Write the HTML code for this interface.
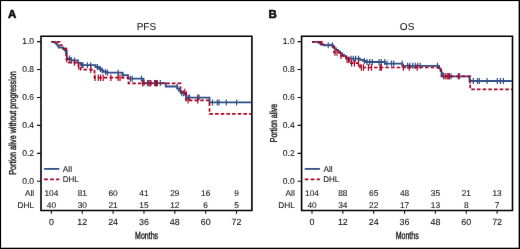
<!DOCTYPE html>
<html><head><meta charset="utf-8"><style>
html,body{margin:0;padding:0;background:#fff;width:520px;height:249px;overflow:hidden}
svg{display:block;text-rendering:geometricPrecision}
text{stroke:#111;stroke-width:0.08px}
</style></head><body>
<svg width="520" height="249" viewBox="0 0 520 249" font-family='"Liberation Sans", sans-serif' fill="#111">
<defs><filter id="sf" x="0" y="0" width="100%" height="100%" filterUnits="userSpaceOnUse"><feConvolveMatrix order="3" kernelMatrix="0.0019 0.0439 0.0019 0.0439 1.0000 0.0439 0.0019 0.0439 0.0019" edgeMode="duplicate" preserveAlpha="false"/></filter></defs>
<rect x="0" y="0" width="520" height="249" fill="#fff"/>
<g filter="url(#sf)">
<text x="7.9" y="17.8" font-size="11.5" font-weight="bold" style="stroke-width:0.6px">A</text>
<text x="146.4" y="30.3" font-size="10" text-anchor="middle">PFS</text>
<path d="M41.0,36.2H251.9V210.5H41.0Z" stroke="#000" stroke-width="1.6" fill="none"/>
<text x="34.1" y="183.75" font-size="8.5" text-anchor="end">0.0</text>
<text x="34.1" y="155.83" font-size="8.5" text-anchor="end">0.2</text>
<text x="34.1" y="127.91" font-size="8.5" text-anchor="end">0.4</text>
<text x="34.1" y="99.99" font-size="8.5" text-anchor="end">0.6</text>
<text x="34.1" y="72.07" font-size="8.5" text-anchor="end">0.8</text>
<text x="34.1" y="44.15" font-size="8.5" text-anchor="end">1.0</text>
<path d="M37,181.25H41.0M37,153.33H41.0M37,125.41H41.0M37,97.49H41.0M37,69.57H41.0M37,41.65H41.0" stroke="#111" stroke-width="1.1"/>
<text x="51.40" y="225" font-size="8.9" text-anchor="middle">0</text>
<text x="51.40" y="196.2" font-size="8.3" text-anchor="middle">104</text>
<text x="51.40" y="208.2" font-size="8.3" text-anchor="middle">40</text>
<text x="82.25" y="225" font-size="8.9" text-anchor="middle">12</text>
<text x="82.25" y="196.2" font-size="8.3" text-anchor="middle">81</text>
<text x="82.25" y="208.2" font-size="8.3" text-anchor="middle">30</text>
<text x="113.10" y="225" font-size="8.9" text-anchor="middle">24</text>
<text x="113.10" y="196.2" font-size="8.3" text-anchor="middle">60</text>
<text x="113.10" y="208.2" font-size="8.3" text-anchor="middle">21</text>
<text x="143.95" y="225" font-size="8.9" text-anchor="middle">36</text>
<text x="143.95" y="196.2" font-size="8.3" text-anchor="middle">41</text>
<text x="143.95" y="208.2" font-size="8.3" text-anchor="middle">15</text>
<text x="174.80" y="225" font-size="8.9" text-anchor="middle">48</text>
<text x="174.80" y="196.2" font-size="8.3" text-anchor="middle">29</text>
<text x="174.80" y="208.2" font-size="8.3" text-anchor="middle">12</text>
<text x="205.65" y="225" font-size="8.9" text-anchor="middle">60</text>
<text x="205.65" y="196.2" font-size="8.3" text-anchor="middle">16</text>
<text x="205.65" y="208.2" font-size="8.3" text-anchor="middle">6</text>
<text x="236.50" y="225" font-size="8.9" text-anchor="middle">72</text>
<text x="236.50" y="196.2" font-size="8.3" text-anchor="middle">9</text>
<text x="236.50" y="208.2" font-size="8.3" text-anchor="middle">5</text>
<path d="M51.40,210.5V213.7M82.25,210.5V213.7M113.10,210.5V213.7M143.95,210.5V213.7M174.80,210.5V213.7M205.65,210.5V213.7M236.50,210.5V213.7" stroke="#111" stroke-width="1.1"/>
<text x="34.2" y="196.2" font-size="8.3" text-anchor="end">All</text>
<text x="34.2" y="208.2" font-size="8.3" text-anchor="end">DHL</text>
<text transform="translate(146.6,239.1) scale(0.675,1)" font-size="10.4" style="stroke-width:0.35px" text-anchor="middle">Months</text>
<text transform="translate(15.9,123) rotate(-90) scale(0.716,1)" font-size="10" style="stroke-width:0.35px" text-anchor="middle">Portion alive without progression</text>
<path d="M44.1,168.9H59.3" stroke="#324f84" stroke-width="1.8"/>
<path d="M44.1,179.4H59.3" stroke="#ad0022" stroke-width="1.7" stroke-dasharray="3.7 2.3"/>
<text x="62.8" y="171.5" font-size="8.3">All</text>
<text x="62.7" y="182.0" font-size="8.3" textLength="16.0" lengthAdjust="spacingAndGlyphs">DHL</text>
<g transform="translate(0,0.4)">
<path d="M51.4,41.4 H55.3 V42.6 H56.5 V44 H57.7 V45.5 H58.8 V47.1 H63.2 V48.6 H64.7 V50.1 H66.8 V58 H71 V60 H78 V62.5 H81 V64.8 H95.5 V66.6 H99 V68.5 H101 V70 H103.5 V71.5 H107 V72.3 H122.4 V74.8 H128 V78.3 H143.5 V82.7 H165.7 V86.1 H177.5 V88.3 H179 V90.5 H181 V92.8 H186 V97.2 H209.5 V102 H251.2" stroke="#324f84" stroke-width="1.8" fill="none"/>
<path d="M65.7,47.1V53.1M69.6,55.0V61.0M71.6,57.0V63.0M74.5,57.0V63.0M81.8,61.8V67.8M82.9,61.8V67.8M87.5,61.8V67.8M90.7,61.8V67.8M97.4,63.6V69.6M100.3,65.5V71.5M102.2,67.0V73.0M105.6,68.5V74.5M107.5,69.3V75.3M118.1,69.3V75.3M122.9,71.8V77.8M130.4,75.3V81.3M132.2,75.3V81.3M141.5,75.3V81.3M144,79.7V85.7M147.5,79.7V85.7M151,79.7V85.7M154.5,79.7V85.7M157.4,79.7V85.7M160.3,79.7V85.7M177,83.1V89.1M181.8,89.8V95.8M183.7,89.8V95.8M188.1,94.2V100.2M189.5,94.2V100.2M197.7,94.2V100.2M199,94.2V100.2M212.5,99.0V105.0M217.3,99.0V105.0M219,99.0V105.0M226.3,99.0V105.0M236.6,99.0V105.0" stroke="#324f84" stroke-width="1.2" fill="none"/>
<path d="M66.2,57 V59 H69 V62.2 H78.5 V66 H80.5 V69.3 H94.5 V77.3 H128.5 V82.9 H180.5 V91.6 H186 V100 H209.5 V113.5 H251.5" stroke="#ad0022" stroke-width="1.7" fill="none" stroke-dasharray="3.5 2.17" stroke-dashoffset="4.39"/>
<path d="M51.4,41.4H54.9M56.6,41.4H59.5V42.2M59.5,44.7H62.6M62.6,48.1H66.2V50.2M66.2,52V55.5" stroke="#ad0022" stroke-width="1.7" fill="none"/>
<path d="M66.8,55.8V62.2M74.5,59.0V65.4M78.7,62.8V69.2M90.8,66.1V72.5M95,74.1V80.5M98.3,74.1V80.5M100.7,74.1V80.5M103.2,74.1V80.5M110.9,74.1V80.5M118.1,74.1V80.5M120,74.1V80.5M142.7,79.7V86.1M148.7,79.7V86.1M150.2,79.7V86.1M155.5,79.7V86.1M156.6,79.7V86.1M184.8,88.4V94.8M188,96.8V103.2M197.7,96.8V103.2" stroke="#ad0022" stroke-width="1.2" fill="none"/>
</g>
<text x="268.5" y="17.8" font-size="11.5" font-weight="bold" style="stroke-width:0.6px">B</text>
<text x="407.1" y="30.3" font-size="10" text-anchor="middle">OS</text>
<path d="M301.6,36.2H512.5V210.5H301.6Z" stroke="#000" stroke-width="1.6" fill="none"/>
<text x="294.70000000000005" y="183.75" font-size="8.5" text-anchor="end">0.0</text>
<text x="294.70000000000005" y="155.83" font-size="8.5" text-anchor="end">0.2</text>
<text x="294.70000000000005" y="127.91" font-size="8.5" text-anchor="end">0.4</text>
<text x="294.70000000000005" y="99.99" font-size="8.5" text-anchor="end">0.6</text>
<text x="294.70000000000005" y="72.07" font-size="8.5" text-anchor="end">0.8</text>
<text x="294.70000000000005" y="44.15" font-size="8.5" text-anchor="end">1.0</text>
<path d="M297.6,181.25H301.6M297.6,153.33H301.6M297.6,125.41H301.6M297.6,97.49H301.6M297.6,69.57H301.6M297.6,41.65H301.6" stroke="#111" stroke-width="1.1"/>
<text x="312.00" y="225" font-size="8.9" text-anchor="middle">0</text>
<text x="312.00" y="196.2" font-size="8.3" text-anchor="middle">104</text>
<text x="312.00" y="208.2" font-size="8.3" text-anchor="middle">40</text>
<text x="342.85" y="225" font-size="8.9" text-anchor="middle">12</text>
<text x="342.85" y="196.2" font-size="8.3" text-anchor="middle">88</text>
<text x="342.85" y="208.2" font-size="8.3" text-anchor="middle">34</text>
<text x="373.70" y="225" font-size="8.9" text-anchor="middle">24</text>
<text x="373.70" y="196.2" font-size="8.3" text-anchor="middle">65</text>
<text x="373.70" y="208.2" font-size="8.3" text-anchor="middle">22</text>
<text x="404.55" y="225" font-size="8.9" text-anchor="middle">36</text>
<text x="404.55" y="196.2" font-size="8.3" text-anchor="middle">48</text>
<text x="404.55" y="208.2" font-size="8.3" text-anchor="middle">17</text>
<text x="435.40" y="225" font-size="8.9" text-anchor="middle">48</text>
<text x="435.40" y="196.2" font-size="8.3" text-anchor="middle">35</text>
<text x="435.40" y="208.2" font-size="8.3" text-anchor="middle">13</text>
<text x="466.25" y="225" font-size="8.9" text-anchor="middle">60</text>
<text x="466.25" y="196.2" font-size="8.3" text-anchor="middle">21</text>
<text x="466.25" y="208.2" font-size="8.3" text-anchor="middle">8</text>
<text x="497.10" y="225" font-size="8.9" text-anchor="middle">72</text>
<text x="497.10" y="196.2" font-size="8.3" text-anchor="middle">13</text>
<text x="497.10" y="208.2" font-size="8.3" text-anchor="middle">7</text>
<path d="M312.00,210.5V213.7M342.85,210.5V213.7M373.70,210.5V213.7M404.55,210.5V213.7M435.40,210.5V213.7M466.25,210.5V213.7M497.10,210.5V213.7" stroke="#111" stroke-width="1.1"/>
<text x="294.8" y="196.2" font-size="8.3" text-anchor="end">All</text>
<text x="294.8" y="208.2" font-size="8.3" text-anchor="end">DHL</text>
<text transform="translate(407.2,239.1) scale(0.675,1)" font-size="10.4" style="stroke-width:0.35px" text-anchor="middle">Months</text>
<text transform="translate(276.5,123) rotate(-90) scale(0.7,1)" font-size="10" style="stroke-width:0.35px" text-anchor="middle">Portion alive</text>
<path d="M304.70000000000005,168.9H319.90000000000003" stroke="#324f84" stroke-width="1.8"/>
<path d="M304.70000000000005,179.4H319.90000000000003" stroke="#ad0022" stroke-width="1.7" stroke-dasharray="3.7 2.3"/>
<text x="323.40000000000003" y="171.5" font-size="8.3">All</text>
<text x="323.3" y="182.0" font-size="8.3" textLength="16.0" lengthAdjust="spacingAndGlyphs">DHL</text>
<g transform="translate(0,0.4)">
<path d="M321,41.4 V45 H334" stroke="#ad0022" stroke-width="1.7" fill="none" stroke-dasharray="3.5 2.17"/>
<path d="M312,41.4 H318 V42.2 H319.5 V42.9 H321 V43.6 H322.5 V44.2 H324 V44.8 H333 V46.5 H334.5 V48 H336 V49.5 H338 V51 H340 V52.7 H342 V54.3 H344 V55.8 H346 V57.2 H348.5 V58.3 H360 V59.4 H363 V60.5 H366 V61.6 H385 V63.2 H402.5 V65.4 H439 V68 H440.5 V70.5 H441.5 V72.5 H442.5 V74 H443 V75.9 H469.5 V80.6 H512" stroke="#324f84" stroke-width="1.8" fill="none"/>
<path d="M328.2,41.8V47.8M332.3,41.8V47.8M351,55.3V61.3M353.3,55.3V61.3M355.6,55.3V61.3M358.6,55.3V61.3M364.4,57.5V63.5M367,58.6V64.6M369.7,58.6V64.6M372.3,58.6V64.6M379.1,58.6V64.6M381.3,58.6V64.6M384.8,58.6V64.6M387,60.2V66.2M391.5,60.2V66.2M393.7,60.2V66.2M402.1,60.2V66.2M407.6,62.4V68.4M409.8,62.4V68.4M412.7,62.4V68.4M415.3,62.4V68.4M417.8,62.4V68.4M420.2,62.4V68.4M437.5,62.4V68.4M443.5,72.9V78.9M448.4,72.9V78.9M450.9,72.9V78.9M459.6,72.9V78.9M470.0,77.6V83.6M473.3,77.6V83.6M477.5,77.6V83.6M479.3,77.6V83.6M487.1,77.6V83.6M497.3,77.6V83.6M500.4,77.6V83.6M503.4,77.6V83.6" stroke="#324f84" stroke-width="1.2" fill="none"/>
<path d="M334,45 V52.1 H340 V55.5 H346 V59.5 H349 V62.8 H360 V67.1 H440 V69.2 H441 V72 H441.5 V75.9 H470.2 V88.9 H512" stroke="#ad0022" stroke-width="1.7" fill="none" stroke-dasharray="3.5 2.17" stroke-dashoffset="0.21"/>
<path d="M312,41.4H315.2M317.6,41.4H321.6V45.2" stroke="#ad0022" stroke-width="1.7" fill="none"/>
<path d="M335,48.9V55.3M337,48.9V55.3M341,52.3V58.7M347,56.3V62.7M348.8,56.3V62.7M351.6,59.6V66.0M354.4,59.6V66.0M358.4,59.6V66.0M361.3,63.9V70.3M363.5,63.9V70.3M368.4,63.9V70.3M371.5,63.9V70.3M380,63.9V70.3M381.3,63.9V70.3M403.4,63.9V70.3M409.2,63.9V70.3M417.2,63.9V70.3M445.1,72.7V79.1M447.1,72.7V79.1M449.3,72.7V79.1M458.3,72.7V79.1" stroke="#ad0022" stroke-width="1.2" fill="none"/>
</g>
</g>
<g fill="#000" style="stroke:none"><rect x="0" y="0" width="520" height="1.1"/><rect x="0" y="0" width="1.1" height="249"/><rect x="0" y="247.7" width="520" height="1.3"/><rect x="518.6" y="0" width="1.4" height="249"/></g>
</svg>
</body></html>
